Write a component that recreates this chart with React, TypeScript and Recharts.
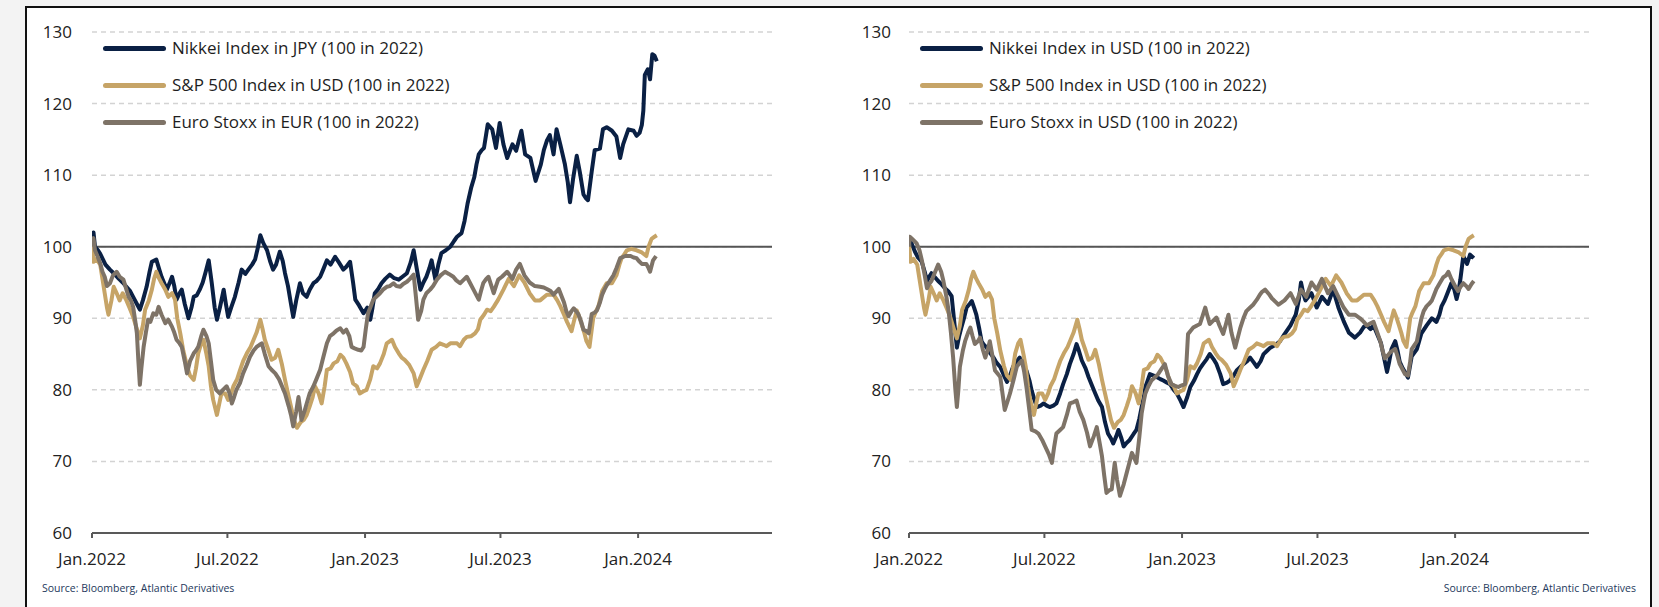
import React from 'react'
import { LineChart, Line, XAxis, YAxis, CartesianGrid, ReferenceLine, Legend } from 'recharts'

const FONT = '"Open Sans", "Noto Sans", sans-serif'

// x axis is days since 1 Jan 2022
const tickDays = [0, 181, 365, 546, 730]
const tickLabels = ['Jan.2022', 'Jul.2022', 'Jan.2023', 'Jul.2023', 'Jan.2024']
const yTicks = [60, 70, 80, 90, 100, 110, 120, 130]
const xMax = 909

const NAVY = '#0a2044'
const GOLD = '#c6a467'
const TAUPE = '#7e7367'

// [day, index level]
const nikkeiJpy: [number, number][] = [
  [0, 100], [2, 102], [4, 100], [8, 99.5], [11, 99], [18, 97.5], [24, 96.8], [29, 96.3], [36, 95.5], [41, 95],
  [46, 94.4], [51, 93.8], [55, 93], [60, 92], [64, 91.2], [68, 92.5], [73, 94.4], [77, 96.5], [80, 97.9], [86, 98.2],
  [90, 96.8], [93, 95.8], [97, 94.8], [100, 94], [104, 95], [107, 95.8], [110, 94.5], [113, 92.6], [117, 93.5], [120, 94],
  [124, 92], [129, 90], [133, 91.5], [136, 93], [140, 93.2], [144, 94], [148, 95], [152, 96.5], [156, 98.1], [160, 95],
  [164, 91.5], [167, 89.8], [171, 91.5], [176, 94], [179, 92], [182, 90.2], [186, 91.5], [191, 93], [196, 95], [200, 96.8],
  [205, 96.2], [209, 96.8], [214, 97.5], [218, 98.2], [222, 100], [225, 101.6], [229, 100.5], [234, 99.5], [238, 98], [242, 96.8],
  [246, 97.5], [251, 99.3], [255, 98], [258, 96.3], [262, 94.5], [266, 92], [269, 90.2], [273, 92.5], [278, 94.9], [282, 93.5],
  [287, 93], [291, 94], [296, 94.9], [300, 95.2], [305, 95.8], [309, 96.8], [314, 98.1], [319, 97.5], [325, 98.6], [330, 97.8],
  [336, 96.8], [340, 97.2], [345, 97.9], [349, 95], [352, 92.6], [357, 91.8], [363, 90.7], [368, 91.5], [372, 89.8], [375, 91.5],
  [378, 93.5], [382, 94], [387, 94.9], [392, 95.5], [398, 96.1], [404, 95.6], [410, 95.4], [415, 95.8], [421, 96.3], [426, 97.8],
  [430, 99.5], [434, 97], [439, 94], [443, 95], [447, 95.8], [451, 97], [454, 98.1], [457, 96.5], [459, 95.4], [463, 97.5],
  [467, 99.1], [473, 99.5], [479, 100], [484, 100.8], [488, 101.4], [494, 101.9], [498, 103.6], [502, 106], [507, 108.3], [511, 109.7],
  [514, 111.5], [517, 112.9], [521, 113.5], [524, 113.8], [529, 117.1], [535, 116.4], [540, 113.8], [545, 117.3], [550, 114.3], [555, 112.4],
  [562, 114.3], [567, 113.4], [574, 116.2], [579, 112.9], [586, 112.4], [593, 109.2], [600, 111.5], [604, 113.5], [608, 114.8], [612, 115.6],
  [617, 112.9], [621, 116.4], [626, 114.3], [632, 111.6], [636, 109], [639, 106.2], [643, 109.4], [648, 112.7], [652, 110.5], [657, 107.3],
  [660, 106.8], [663, 106.5], [668, 110.5], [672, 113.5], [679, 113.7], [683, 116.4], [688, 116.7], [695, 116.2], [701, 115.4], [706, 112.4],
  [710, 114.3], [717, 116.4], [724, 116.2], [728, 115.5], [732, 115.9], [735, 117], [737, 119], [739, 124], [743, 124.8], [746, 123.4],
  [749, 126.9], [752, 126.7], [755, 125.9],
]

const spxUsd: [number, number][] = [
  [0, 100.5], [2, 97.9], [6, 98.3], [11, 97.5], [14, 95.5], [17, 93.5], [20, 91.5], [22, 90.5], [26, 92.5], [29, 94.4],
  [33, 93.5], [37, 92.5], [41, 93.5], [46, 92.5], [50, 91.5], [55, 90.2], [60, 88.5], [64, 87.2], [68, 89], [71, 91.2],
  [76, 92.5], [80, 94], [83, 95.5], [86, 96.5], [90, 95.5], [93, 94.9], [98, 94], [102, 93], [107, 93.5], [111, 92.6],
  [114, 90], [118, 87.9], [122, 85.5], [127, 83.3], [131, 82], [136, 81.4], [139, 83], [142, 85.1], [146, 86.5], [149, 87],
  [153, 85], [156, 83.3], [159, 80.5], [162, 78.6], [167, 76.5], [170, 78], [173, 79.5], [178, 79.5], [182, 78.6], [186, 79.5],
  [189, 80.5], [194, 81.5], [198, 82.8], [202, 84], [207, 85.1], [212, 86], [216, 87], [220, 88], [225, 89.8], [228, 88.5],
  [231, 87], [236, 85.5], [240, 84.2], [245, 84.5], [249, 85.6], [254, 83.5], [258, 81.4], [262, 79.5], [267, 77.2], [270, 75.8],
  [274, 74.7], [279, 75.5], [283, 75.8], [287, 76.5], [291, 77.7], [295, 79], [298, 80.5], [303, 79.5], [307, 78.1], [311, 80.5],
  [314, 82.8], [319, 83], [323, 83.7], [328, 84], [332, 84.9], [336, 84.5], [340, 83.7], [345, 82.5], [349, 80.9], [354, 80.5],
  [358, 79.5], [363, 79.8], [367, 80], [372, 81.5], [376, 83.3], [381, 83], [385, 83.7], [390, 85], [394, 86.5], [401, 87],
  [405, 86], [410, 85.1], [414, 84.5], [418, 84.2], [424, 83.5], [430, 82.3], [434, 80.5], [438, 81.5], [443, 82.8], [448, 84],
  [454, 85.6], [460, 86], [465, 86.5], [470, 86.3], [474, 86.1], [479, 86.5], [483, 86.5], [488, 86.5], [492, 86.1], [497, 87],
  [501, 87.4], [507, 87.5], [512, 87.9], [516, 88.5], [519, 89.8], [524, 90.5], [528, 91.2], [533, 91], [537, 91.6], [543, 92.6],
  [550, 94], [557, 95.5], [564, 94.5], [571, 96], [578, 95], [585, 93.5], [592, 92.5], [599, 92.5], [608, 93.3], [617, 93.3],
  [622, 92.5], [626, 91.7], [631, 90.5], [635, 89.5], [641, 88.2], [644, 89.5], [648, 91.1], [652, 90], [655, 89], [658, 88],
  [661, 86.8], [665, 86], [670, 90], [673, 90.8], [677, 91.7], [682, 93.8], [688, 94.9], [695, 94.9], [701, 96], [705, 97.5],
  [708, 98.4], [712, 99], [715, 99.5], [721, 99.7], [728, 99.5], [735, 99.2], [741, 98.7], [744, 100], [748, 101.1], [752, 101.4],
  [755, 101.6],
]

const stoxxEur: [number, number][] = [
  [0, 100], [2, 101.2], [4, 99.5], [8, 98.5], [11, 97.7], [14, 96.5], [17, 95.8], [20, 94.5], [24, 94.9], [28, 96],
  [33, 96.5], [37, 95.8], [42, 95.4], [46, 94], [49, 93], [52, 92.5], [55, 91.6], [58, 89.5], [60, 87.9], [62, 84],
  [64, 80.7], [66, 83], [69, 86], [72, 88], [75, 89.8], [78, 89.5], [82, 90.7], [86, 90.5], [89, 91.6], [93, 90.5],
  [98, 89.3], [102, 89.8], [107, 88.8], [110, 88], [113, 87], [117, 86.5], [120, 86], [124, 84], [127, 82.3], [131, 84],
  [136, 85.1], [139, 85.5], [142, 86], [146, 87.5], [149, 88.4], [153, 87.5], [156, 86.5], [159, 84], [162, 81.4], [166, 80],
  [171, 79.5], [175, 80], [180, 80.5], [184, 79.5], [187, 78.1], [190, 79], [193, 80], [198, 81], [202, 82.3], [207, 83.5],
  [211, 84.6], [216, 85.5], [220, 86], [224, 86.3], [227, 86.5], [231, 85], [236, 83.3], [240, 82.8], [245, 82.3], [250, 81.5],
  [254, 80.5], [258, 79.5], [263, 77.7], [266, 76.5], [269, 74.9], [273, 77], [276, 79], [278, 77.5], [280, 75.8], [284, 77],
  [287, 78.1], [291, 79.5], [296, 80.5], [300, 81.5], [305, 82.8], [309, 84.5], [314, 86.5], [318, 87.5], [323, 87.9], [327, 88.3],
  [332, 88.6], [336, 88], [340, 88.4], [344, 87.5], [347, 86], [351, 85.8], [356, 85.6], [360, 85.5], [363, 86], [366, 88.5],
  [369, 90.7], [372, 91.5], [376, 92.6], [380, 93], [385, 93.5], [389, 94], [394, 94.4], [398, 94.5], [403, 94.9], [407, 94.5],
  [412, 94.4], [416, 94.8], [421, 95.1], [425, 95.5], [430, 96.1], [433, 93], [436, 89.8], [440, 91], [443, 92.6], [447, 93.5],
  [452, 94], [456, 94.5], [461, 95.4], [466, 96], [472, 96.5], [477, 96.2], [483, 95.8], [487, 95.3], [492, 94.9], [496, 95.3],
  [501, 95.8], [505, 95], [510, 94], [514, 93.2], [517, 92.6], [520, 93.8], [523, 94.9], [527, 95.5], [530, 95.8], [534, 94.5],
  [537, 93.5], [540, 94.5], [543, 95.4], [548, 95.8], [555, 96.5], [562, 95.5], [567, 96.8], [572, 97.6], [578, 96], [585, 95],
  [592, 94.5], [599, 94.4], [604, 94.3], [608, 94.1], [613, 93.8], [617, 93.3], [624, 94.1], [628, 93], [631, 92.2], [634, 91],
  [637, 90.3], [641, 91], [644, 91.4], [647, 91], [650, 90.6], [654, 89.5], [657, 88.4], [661, 88.2], [664, 87.9], [668, 90.6],
  [672, 90.8], [675, 91.1], [679, 92.2], [682, 93.3], [685, 94], [688, 94.6], [692, 95.2], [697, 96], [701, 97], [706, 98.4],
  [713, 98.7], [720, 98.7], [724, 98.5], [728, 98.4], [731, 98], [735, 97.6], [741, 97.6], [744, 97], [746, 96.5], [750, 98.1],
  [754, 98.7],
]

const nikkeiUsd: [number, number][] = [
  [0, 100], [1, 101.2], [4, 100.3], [8, 99.3], [12, 98.5], [17, 97.9], [21, 96.5], [24, 95.2], [27, 95.8], [30, 96.3],
  [35, 95.7], [39, 95.2], [44, 94.7], [48, 94.2], [53, 93.7], [57, 93.1], [60, 90], [64, 85.9], [67, 87.5], [70, 88.7],
  [74, 90.2], [77, 91.5], [81, 92], [84, 92.4], [87, 91.5], [90, 90.5], [94, 88.5], [97, 86.8], [100, 86.3], [104, 85.9],
  [108, 85.2], [113, 84.5], [117, 83.8], [122, 83.2], [127, 82], [131, 81.1], [135, 82], [139, 83.2], [144, 84], [148, 84.5],
  [152, 83.5], [157, 82.7], [161, 81.3], [164, 79.9], [168, 78.5], [171, 77.6], [176, 77.8], [180, 78.1], [184, 77.8], [188, 77.6],
  [193, 77.8], [197, 78.1], [202, 79.5], [206, 80.8], [211, 82.2], [215, 83.6], [220, 85], [224, 86.4], [227, 85.5], [231, 84.1],
  [236, 83], [240, 81.8], [245, 80.5], [249, 79.5], [253, 78.5], [258, 77.6], [262, 75.5], [266, 73.9], [270, 73.2], [273, 72.5],
  [277, 73.5], [280, 74.4], [284, 73.2], [287, 72.1], [291, 72.6], [295, 73], [300, 73.8], [304, 74.4], [308, 76], [311, 77.6],
  [314, 79], [316, 80.4], [319, 81.3], [322, 82.2], [327, 82], [331, 81.8], [336, 81.5], [340, 81.3], [345, 81], [349, 80.8],
  [354, 80], [358, 79.5], [363, 78.5], [367, 77.6], [372, 79], [376, 80.4], [381, 81.3], [385, 82.2], [389, 83], [393, 83.6],
  [398, 84.3], [402, 85], [407, 84.3], [411, 83.6], [416, 82.2], [420, 80.8], [425, 81], [429, 81.3], [434, 82], [438, 82.7],
  [443, 83.2], [447, 83.6], [452, 84], [456, 84.5], [461, 83.8], [465, 83.2], [470, 84], [474, 85], [479, 85.5], [483, 85.9],
  [490, 86.3], [496, 86.8], [502, 87.8], [510, 89], [517, 90.5], [521, 92.5], [524, 95], [527, 93.5], [530, 92.5], [534, 93],
  [538, 93.5], [545, 91.5], [552, 93], [560, 92], [567, 94], [574, 91.5], [581, 89.6], [588, 88], [596, 87.3], [603, 88],
  [608, 88.8], [612, 89], [617, 88.5], [621, 89], [627, 87.5], [631, 86.5], [634, 85], [639, 82.5], [642, 84], [645, 85.7],
  [650, 86.8], [653, 85.5], [656, 83.9], [660, 83], [663, 82.5], [667, 81.7], [672, 84.7], [679, 85.7], [685, 87.9], [692, 89],
  [699, 90], [705, 89.5], [709, 90.5], [712, 91.7], [716, 92.5], [719, 93.3], [725, 94.9], [729, 94], [732, 92.7], [735, 94],
  [737, 95.4], [741, 98.7], [746, 97.6], [750, 98.9], [755, 98.4],
]

const stoxxUsd: [number, number][] = [
  [0, 100], [1, 101.4], [5, 101], [10, 100.5], [14, 99.5], [17, 98.2], [21, 96], [24, 94.2], [27, 94.8], [30, 95.2],
  [35, 96.5], [39, 97.5], [43, 96.5], [46, 95.2], [50, 93], [53, 91], [56, 88], [59, 84.5], [62, 80], [64, 77.6],
  [66, 80], [68, 83.2], [72, 85.5], [75, 86.8], [79, 88], [82, 88.7], [85, 87.5], [88, 86.4], [92, 86.8], [95, 87.3],
  [99, 85.5], [102, 84.5], [105, 85.5], [108, 86.8], [112, 84.5], [115, 82.7], [119, 82.2], [122, 81.8], [125, 79.5], [128, 77.2],
  [132, 78.5], [135, 79.5], [140, 81.5], [144, 83.2], [148, 83.8], [151, 84.1], [154, 82.5], [157, 80.4], [161, 77], [164, 74.4],
  [169, 74.2], [173, 73.9], [178, 73], [182, 72.1], [187, 71], [191, 69.8], [194, 72], [197, 73.9], [202, 74.4], [206, 74.8],
  [211, 76.5], [215, 78.1], [220, 78.3], [224, 78.5], [228, 77], [233, 75.8], [238, 74], [242, 72.1], [247, 73.5], [251, 74.8],
  [255, 72.5], [258, 70.7], [261, 68], [264, 65.6], [268, 66], [271, 66.1], [273, 68], [275, 69.8], [278, 67.5], [282, 65.2],
  [287, 66.8], [291, 68.4], [295, 70], [298, 71.2], [301, 70.5], [304, 69.8], [308, 73.5], [311, 76.7], [314, 78.5], [316, 79.5],
  [320, 80.5], [324, 81.3], [328, 81.7], [333, 82.2], [338, 83], [342, 83.6], [346, 82], [351, 80.8], [355, 80.6], [360, 80.4],
  [364, 80.6], [369, 80.8], [371, 84], [373, 87.8], [376, 88.2], [380, 88.7], [385, 89], [389, 89.2], [393, 90.5], [396, 91.5],
  [399, 90.3], [402, 89.2], [406, 89.6], [411, 90.1], [415, 89], [420, 87.8], [424, 89.3], [427, 90.5], [431, 88], [436, 85.9],
  [440, 87.5], [443, 88.7], [447, 90], [451, 91], [456, 91.5], [460, 91.9], [465, 92.6], [469, 93.3], [472, 93.7], [476, 94],
  [481, 93.4], [485, 92.8], [490, 92.3], [494, 91.9], [502, 92.5], [510, 93.5], [517, 92], [524, 94], [531, 93], [538, 95],
  [545, 94], [552, 95.5], [560, 93.5], [567, 94.5], [574, 93], [581, 91.5], [588, 90.5], [596, 90.5], [603, 90], [608, 89.5],
  [612, 89], [617, 89.3], [621, 89.5], [625, 88.3], [630, 86.8], [633, 85.5], [636, 84.4], [640, 84.8], [643, 85.2], [647, 85.5],
  [650, 85.7], [653, 84.7], [656, 83.6], [660, 82.8], [663, 82.2], [667, 82], [670, 84], [672, 85.7], [676, 86.3], [679, 86.8],
  [682, 88.5], [685, 90], [688, 91], [692, 91.7], [696, 92.1], [699, 92.5], [702, 93.3], [705, 94.1], [710, 95], [714, 95.7],
  [718, 96], [721, 96.5], [725, 95.5], [728, 94.9], [731, 94.3], [734, 93.8], [738, 94.5], [741, 94.9], [745, 94.5], [748, 94.1],
  [752, 94.8], [755, 95.2],
]

type Series = { name: string; color: string; points: [number, number][] }

const leftSeries: Series[] = [
  { name: 'Nikkei Index in JPY (100 in 2022)', color: NAVY, points: nikkeiJpy },
  { name: 'S&P 500 Index in USD (100 in 2022)', color: GOLD, points: spxUsd },
  { name: 'Euro Stoxx in EUR (100 in 2022)', color: TAUPE, points: stoxxEur },
]

const rightSeries: Series[] = [
  { name: 'Nikkei Index in USD (100 in 2022)', color: NAVY, points: nikkeiUsd },
  { name: 'S&P 500 Index in USD (100 in 2022)', color: GOLD, points: spxUsd },
  { name: 'Euro Stoxx in USD (100 in 2022)', color: TAUPE, points: stoxxUsd },
]

const tickStyle = { fontSize: 17, fill: '#222222', fontFamily: FONT }

const LegendBox = ({ payload, order }: any) => {
  const items = order.map((n: string) => (payload ?? []).find((p: any) => p.value === n)).filter(Boolean)
  return (
    <div style={{ position: 'relative', fontFamily: FONT }}>
      {items.map((item: any, i: number) => (
        <div
          key={item.value}
          style={{
            position: 'absolute', left: 103, top: 36 + i * 37, height: 24,
            display: 'flex', alignItems: 'center', whiteSpace: 'nowrap',
          }}
        >
          <span style={{ display: 'block', width: 63, height: 5, borderRadius: 3, background: item.color }} />
          <span style={{ marginLeft: 6, fontSize: 17, lineHeight: '24px', color: '#1e1e1e' }}>{item.value}</span>
        </div>
      ))}
    </div>
  )
}

const Panel = ({ left, series, leftGap, rightGap }: { left: number; series: Series[]; leftGap: number; rightGap: number }) => (
  <div style={{ position: 'absolute', left, top: 0 }}>
    <LineChart width={840} height={607} margin={{ top: 32, right: 0, bottom: 34, left: 0 }}>
      <CartesianGrid yAxisId="l" vertical={false} stroke="#d3d3d3" strokeWidth={1.5} strokeDasharray="5 4" />
      <XAxis
        dataKey="d"
        type="number"
        domain={[0, xMax]}
        allowDataOverflow
        ticks={tickDays}
        interval={0}
        tickFormatter={(v) => tickLabels[tickDays.indexOf(v)] ?? ''}
        height={40}
        tickSize={5}
        tickMargin={15}
        axisLine={{ stroke: '#595959', strokeWidth: 2 }}
        tickLine={{ stroke: '#595959', strokeWidth: 2 }}
        tick={tickStyle}
      />
      <YAxis
        yAxisId="l"
        domain={[60, 130]}
        ticks={yTicks}
        width={92}
        axisLine={false}
        tickLine={false}
        tickSize={0}
        tickMargin={leftGap}
        tick={tickStyle}
      />
      <YAxis
        yAxisId="r"
        orientation="right"
        domain={[60, 130]}
        ticks={yTicks}
        width={68}
        axisLine={false}
        tickLine={false}
        tickSize={0}
        tickMargin={rightGap}
        tick={tickStyle}
      />
      <ReferenceLine yAxisId="l" y={100} stroke="#555555" strokeWidth={2} />
      {series.map((s) => (
        <Line
          key={s.name}
          yAxisId="l"
          name={s.name}
          data={s.points.map(([d, v]) => ({ d, v }))}
          dataKey="v"
          stroke={s.color}
          strokeWidth={4}
          strokeLinejoin="round"
          dot={false}
          activeDot={false}
          isAnimationActive={false}
        />
      ))}
      <Legend
        layout="vertical"
        align="center"
        verticalAlign="middle"
        wrapperStyle={{ left: 0, top: 0, width: 0, height: 0 }}
        content={(p: any) => <LegendBox payload={p.payload} order={series.map((s) => s.name)} />}
      />
    </LineChart>
  </div>
)

const sourceStyle: React.CSSProperties = {
  position: 'absolute', top: 580, fontSize: 10.5, lineHeight: '16px',
  color: '#24395c', fontFamily: FONT, whiteSpace: 'nowrap',
}

export default function App() {
  return (
    <div
      style={{
        position: 'absolute', left: 0, top: 0, width: 1659, height: 607, overflow: 'hidden',
        background: '#f3f3f3', fontFamily: FONT,
      }}
    >
      <div
        style={{
          position: 'absolute', left: 25, top: 6, width: 1627, height: 640, boxSizing: 'border-box',
          border: '2.5px solid #111', background: '#ffffff',
        }}
      />
      <Panel left={0} series={leftSeries} leftGap={20} rightGap={17} />
      <Panel left={817} series={rightSeries} leftGap={18} rightGap={19} />
      <div style={{ ...sourceStyle, left: 42 }}>Source: Bloomberg, Atlantic Derivatives</div>
      <div style={{ ...sourceStyle, right: 23, textAlign: 'right' }}>Source: Bloomberg, Atlantic Derivatives</div>
    </div>
  )
}
